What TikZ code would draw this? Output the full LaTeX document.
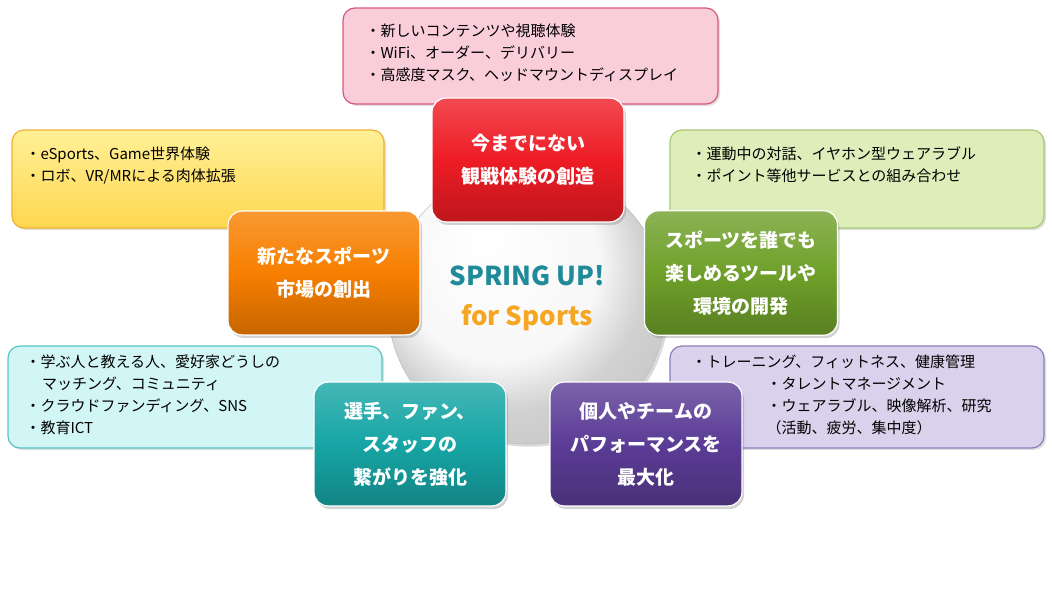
\documentclass[tikz,border=0pt]{standalone}
\usepackage{fontspec}
\setmainfont{Noto Sans CJK JP}
\usetikzlibrary{shadows}
\definecolor{cred}{HTML}{EE1C25}\definecolor{cora}{HTML}{F77F00}
\definecolor{cgrn}{HTML}{6FA02A}\definecolor{cteal}{HTML}{17A5A5}
\definecolor{cpur}{HTML}{5B3C96}
\definecolor{pkd}{HTML}{D9587A}\definecolor{pkf}{HTML}{FACDDA}
\definecolor{yed}{HTML}{F0B030}\definecolor{yet}{HTML}{FFF096}\definecolor{yeb}{HTML}{FFD750}
\definecolor{lgd}{HTML}{A8C870}\definecolor{lgf}{HTML}{DEEEBA}
\definecolor{cyd}{HTML}{5AC4C4}\definecolor{cyf}{HTML}{D2F5F5}
\definecolor{lvd}{HTML}{8E7CB8}\definecolor{lvf}{HTML}{DAD2EC}
\definecolor{spt}{HTML}{1F8A9A}\definecolor{spo}{HTML}{F5A623}
\pgfdeclareradialshading{myball}{\pgfpoint{-8bp}{12bp}}{color(0bp)=(white); color(18bp)=(white!97!black); color(25bp)=(white!82!black); color(50bp)=(white!70!black)}
\tikzset{
 x=1pt,y=-1pt,
 big/.style={rounded corners=14pt,draw=white,line width=1.2pt,text=white,align=center,
   font=\bfseries\fontsize{19}{33}\selectfont,drop shadow={opacity=0.35,shadow xshift=2pt,shadow yshift=-3pt}},
 small/.style={rounded corners=12pt,line width=1.2pt,drop shadow={opacity=0.25,shadow xshift=2pt,shadow yshift=-2pt}},
 stxt/.style={anchor=north west,align=left,font=\fontsize{15}{22}\selectfont},
}
\newcommand{\bigbox}[5]{\node[big,top color=#4!80!white,bottom color=#4!80!black,middle color=#4,minimum width=#3,minimum height=#3*0.645] (#1) at (#2) {#5};}
\begin{document}
\begin{tikzpicture}
\useasboundingbox (0,0) rectangle (1052,589);
\path[small,draw=pkd,fill=pkf] (343,8) rectangle (718,104);
\node[stxt] (tpk) at (362,20) {・新しいコンテンツや視聴体験\\・WiFi、オーダー、デリバリー\\・高感度マスク、ヘッドマウントディスプレイ};
\path[small,draw=yed,top color=yet,bottom color=yeb] (12,130) rectangle (384,228);
\node[stxt] (tye) at (22,143) {・eSports、Game世界体験\\・ロボ、VR/MRによる肉体拡張};
\path[small,draw=lgd,fill=lgf] (670,130) rectangle (1044,228);
\node[stxt] (tgr) at (688,143) {・運動中の対話、イヤホン型ウェアラブル\\・ポイント等他サービスとの組み合わせ};
\path[small,draw=cyd,fill=cyf] (8,346) rectangle (382,448);
\node[stxt] (tcy) at (22,351) {・学ぶ人と教える人、愛好家どうしの\\\hspace*{1.1em}マッチング、コミュニティ\\・クラウドファンディング、SNS\\・教育ICT};
\path[small,draw=lvd,fill=lvf] (670,346) rectangle (1044,448);
\node[stxt] (tpu) at (688,351) {・トレーニング、フィットネス、健康管理\\\hspace*{5em}・タレントマネージメント\\\hspace*{5em}・ウェアラブル、映像解析、研究\\\hspace*{5em}（活動、疲労、集中度）};
\path[shading=myball,draw=white!75!black,line width=0.6pt,drop shadow={opacity=0.3}] (527,305) circle (139);
\node[align=center,font=\bfseries\fontsize{26}{40}\selectfont] (ctr) at (527,298) {\textcolor{spt}{SPRING UP!}\\\textcolor{spo}{for Sports}};
\bigbox{red}{528,160}{192}{cred}{今までにない\\観戦体験の創造}
\bigbox{ora}{324,273}{192}{cora}{新たなスポーツ\\市場の創出}
\bigbox{grn}{741,273}{193}{cgrn}{スポーツを誰でも\\楽しめるツールや\\環境の開発}
\bigbox{teal}{410,444}{192}{cteal}{選手、ファン、\\スタッフの\\繋がりを強化}
\bigbox{pur}{646,444}{192}{cpur}{個人やチームの\\パフォーマンスを\\最大化}
\end{tikzpicture}
\end{document}
